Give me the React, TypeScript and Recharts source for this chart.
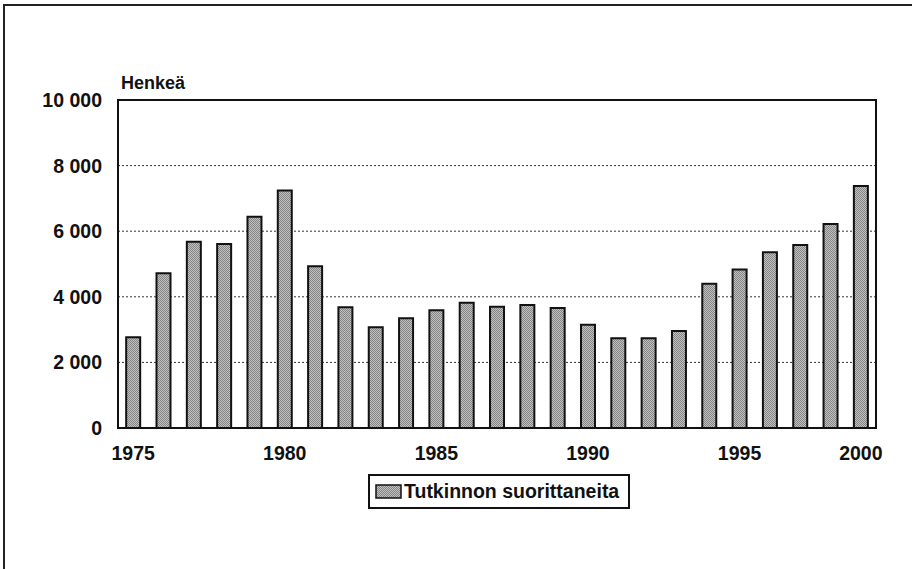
import React from 'react';
import { BarChart, Bar, XAxis, YAxis, CartesianGrid, Legend, ReferenceArea } from 'recharts';

const years = [1975, 1976, 1977, 1978, 1979, 1980, 1981, 1982, 1983, 1984, 1985, 1986, 1987, 1988, 1989, 1990, 1991, 1992, 1993, 1994, 1995, 1996, 1997, 1998, 2000];
const graduates = [2770, 4720, 5680, 5610, 6440, 7240, 4935, 3680, 3070, 3345, 3590, 3820, 3695, 3750, 3660, 3150, 2735, 2735, 2955, 4400, 4830, 5355, 5580, 6220, 7380];
const labelYears = [1975, 1980, 1985, 1990, 1995, 2000];
const yTicks = [0, 2000, 4000, 6000, 8000, 10000];
const seriesName = 'Tutkinnon suorittaneita';
const unitLabel = 'Henkeä';

const data = years.map((y, i) => ({ year: y, value: graduates[i] }));

const FONT = "'Liberation Sans', Arial, sans-serif";
const textStyle: React.CSSProperties = { fontFamily: FONT, fontWeight: 'bold' };

const fmt = (v: number) => String(v).replace(/\B(?=(\d{3})+(?!\d))/g, ' ');

const LegendBox = () => (
  <div
    style={{
      display: 'flex',
      alignItems: 'center',
      border: '2px solid #111',
      height: 31,
      padding: '0 9px 0 5px',
      background: '#fff',
      ...textStyle,
      fontSize: 19.5,
      color: '#111',
      boxSizing: 'content-box',
      width: 'max-content',
    }}
  >
    <svg width={27} height={15} style={{ marginRight: 2 }}>
      <rect x={1} y={1} width={25} height={13} fill="url(#stipple)" stroke="#111" strokeWidth={1.5} />
    </svg>
    <span>{seriesName}</span>
  </div>
);

const UnitLabel = (props: any) => {
  const vb = props.viewBox || {};
  return (
    <text x={vb.x + vb.width + 3} y={vb.y - 11} style={{ ...textStyle, fontSize: 18 }} fill="#111">
      {unitLabel}
    </text>
  );
};

const tickProps = { style: { ...textStyle }, fontSize: 19.5, fill: '#111' };

export default function App() {
  return (
    <div style={{ position: 'absolute', left: 0, top: 0, width: 912, height: 569, background: '#fff' }}>
      <div
        style={{
          position: 'absolute',
          left: 3,
          top: 4,
          width: 909,
          height: 565,
          borderLeft: '2px solid #222',
          borderTop: '2px solid #222',
        }}
      />
      <BarChart
        width={912}
        height={569}
        data={data}
        margin={{ top: 100, right: 36, bottom: 60, left: 0 }}
        barCategoryGap="27%"
      >
        <defs>
          <pattern id="stipple" width="2" height="2" patternUnits="userSpaceOnUse">
            <rect width="2" height="2" fill="#c0c0c0" />
            <rect x="0" y="0" width="1" height="1" fill="#858585" />
            <rect x="1" y="1" width="1" height="1" fill="#858585" />
          </pattern>
        </defs>
        <CartesianGrid vertical={false} stroke="#333" strokeDasharray="2 2" strokeWidth={1} />
        <XAxis
          dataKey="year"
          type="category"
          interval={0}
          height={46}
          tickLine={false}
          tickSize={6}
          tickMargin={12}
          axisLine={{ stroke: '#111', strokeWidth: 2 }}
          tickFormatter={(v: number) => (labelYears.includes(v) ? String(v) : '')}
          tick={tickProps}
        />
        <YAxis
          width={118}
          domain={[0, 10000]}
          ticks={yTicks}
          interval={0}
          tickLine={false}
          tickSize={6}
          tickMargin={10}
          axisLine={{ stroke: '#111', strokeWidth: 2 }}
          tickFormatter={fmt}
          tick={tickProps}
          label={<UnitLabel />}
        />
        <Bar
          dataKey="value"
          name={seriesName}
          fill="url(#stipple)"
          stroke="#111"
          strokeWidth={2}
          isAnimationActive={false}
        />
        <ReferenceArea y1={0} y2={10000} fill="none" fillOpacity={0} stroke="#111" strokeWidth={2} />
        <Legend
          verticalAlign="bottom"
          content={<LegendBox />}
          wrapperStyle={{ left: 368, bottom: 60, width: 259, height: 35 }}
        />
      </BarChart>
    </div>
  );
}
